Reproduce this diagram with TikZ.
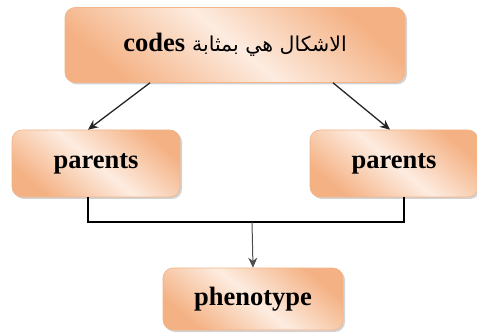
\documentclass[tikz,border=0pt]{standalone}
\usepackage{fontspec}
\setmainfont{Liberation Serif}
\newfontfamily\arabicfont[Script=Arabic]{DejaVu Sans}
\TeXXeTstate=1
\usetikzlibrary{shadows,arrows.meta}
\definecolor{peachdark}{HTML}{F4B183}
\definecolor{peachlight}{HTML}{FDECE0}
\definecolor{peachline}{HTML}{F2B488}
\tikzset{
  box/.style={draw=peachline, line width=0.6pt, rounded corners=10pt,
    top color=peachdark, bottom color=peachdark, middle color=peachlight,
    shading angle=-40,
    drop shadow={opacity=0.35, shadow xshift=2pt, shadow yshift=-2pt},
    font=\fontsize{26.5}{30}\selectfont\bfseries, text=black, inner sep=0pt},
  arr/.style={draw=black!85, line width=1.3pt, -{Stealth[length=10pt,width=9pt]}},
  elbow/.style={draw=black, line width=2.2pt, line join=miter}
}
\begin{document}
\begin{tikzpicture}[x=1pt,y=-1pt]
\useasboundingbox (0,0) rectangle (477,334);
\node[box, minimum width=340pt, minimum height=75pt] (top) at (235,45)
  {codes\hspace{7pt}{\arabicfont\mdseries\fontsize{20.5}{24}\selectfont\beginR الاشكال هي بمثابة\endR}};
\node[box, minimum width=168pt, minimum height=67pt] (p1) at (96,163.5) {parents};
\node[box, minimum width=168pt, minimum height=67pt] (p2) at (394,163.5) {parents};
\node[box, minimum width=180pt, minimum height=62pt] (ph) at (253,299) {phenotype};
\coordinate (j) at (252,222);
\draw[arr] ([xshift=-85pt]top.south) -- ([xshift=-8pt]p1.north);
\draw[arr] ([xshift=98pt]top.south) -- ([xshift=-4pt]p2.north);
\draw[elbow] ([xshift=-8pt]p1.south) |- (j) -| ([xshift=10pt]p2.south);
\draw[arr, draw=black!70, line width=1pt] (j) -- (ph.north);
\end{tikzpicture}
\end{document}
